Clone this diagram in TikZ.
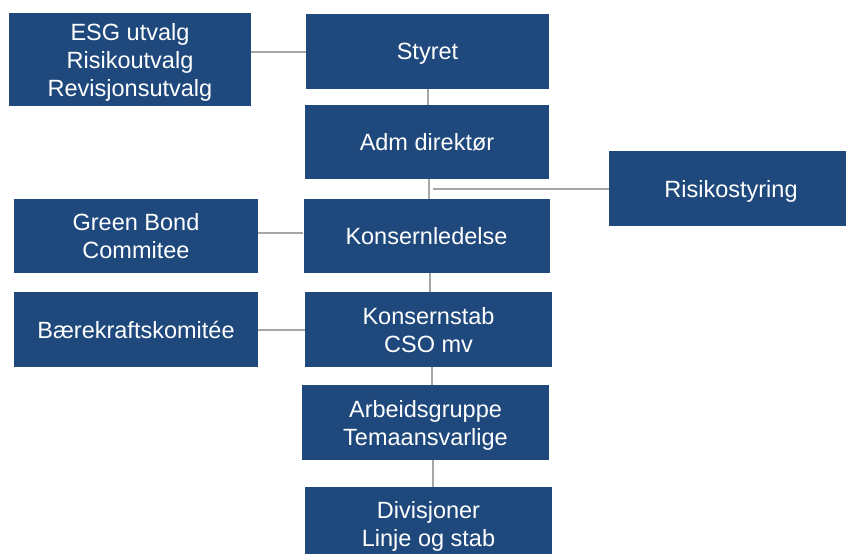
\documentclass[tikz,border=0pt]{standalone}
\usepackage{fontspec}
\setmainfont{Liberation Sans}
\definecolor{boxblue}{HTML}{1F497D}
\definecolor{linegray}{HTML}{A6A6A6}
\begin{document}
\begin{tikzpicture}[x=1pt,y=-1pt,
  orgbox/.style={fill=boxblue, draw=none, text=white, align=center, inner sep=0pt,
    text depth=0pt, font=\fontsize{23.5}{28}\selectfont},
  conn/.style={draw=linegray, line width=2pt}]
\useasboundingbox (0,0) rectangle (846,554);
\clip (0,0) rectangle (846,554);
\node[orgbox, minimum width=242, minimum height=93] (esg) at (130,59.5) {ESG utvalg\\Risikoutvalg\\Revisjonsutvalg};
\node[orgbox, minimum width=243, minimum height=75] (styret) at (427.5,51.5) {Styret};
\node[orgbox, minimum width=244, minimum height=74] (adm) at (427,142) {Adm direktør};
\node[orgbox, minimum width=244, minimum height=75] (risk) at (731,188.5) {Risikostyring};
\node[orgbox, minimum width=246, minimum height=74] (kl) at (426.5,236) {Konsernledelse};
\node[orgbox, minimum width=244, minimum height=74] (green) at (136,236) {Green Bond\\Commitee};
\node[orgbox, minimum width=247, minimum height=75] (stab) at (428.5,329.5) {Konsernstab\\CSO mv};
\node[orgbox, minimum width=244, minimum height=75] (baer) at (136,329.5) {Bærekraftskomitée};
\node[orgbox, minimum width=247, minimum height=75] (arb) at (425.5,422.5) {Arbeidsgruppe\\Temaansvarlige};
\node[orgbox, minimum width=247, minimum height=74] (div) at (428.5,524) {Divisjoner\\Linje og stab};
% connectors
\draw[conn] (styret.west) -- (styret.west -| esg.east);
\draw[conn] ([xshift=0.5pt]styret.south) -- ([xshift=0.5pt]styret.south |- adm.north);
\draw[conn] ([xshift=2pt]adm.south) -- ([xshift=2pt]adm.south |- kl.north);
\coordinate (j) at ([xshift=6pt]adm.south |- risk.west);
\draw[conn] (j) -- (risk.west);
\draw[conn] ([yshift=3pt]kl.west) -- ([yshift=3pt]kl.west -| green.east);
\draw[conn] ([xshift=3.5pt]kl.south) -- ([xshift=3.5pt]kl.south |- stab.north);
\draw[conn] (stab.west) -- (stab.west -| baer.east);
\draw[conn] ([xshift=3.5pt]stab.south) -- ([xshift=3.5pt]stab.south |- arb.north);
\draw[conn] ([xshift=7.5pt]arb.south) -- ([xshift=7.5pt]arb.south |- div.north);
\end{tikzpicture}
\end{document}
